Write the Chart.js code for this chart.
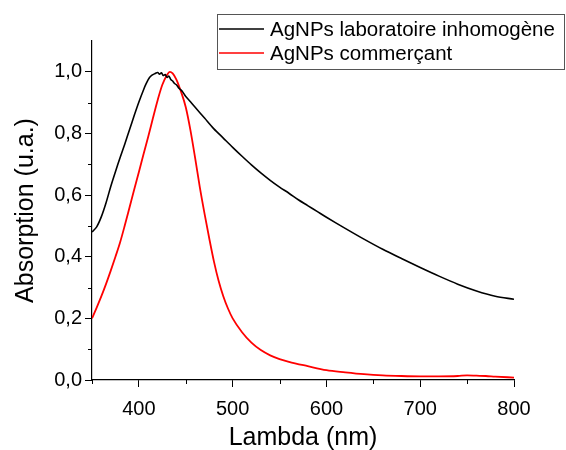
<!DOCTYPE html>
<html lang="fr">
<head>
  <meta charset="UTF-8">
  <title>Absorption AgNPs</title>
  <script src="https://cdn.jsdelivr.net/npm/chart.js"></script>
  <style>
    body { margin: 0; background: #fff; }
    .chart-box { width: 566px; height: 450px; position: relative; }
  </style>
</head>
<body>
  <div class="chart-box">
    <canvas id="spectre"></canvas>
  </div>

  <script>
    // Longueurs d'onde (nm) et absorbances
    const lambdaLabo = [350, 355, 360, 365, 370, 375, 380, 385, 390, 395, 400, 405, 408, 411, 414, 417, 420, 422, 424, 426, 428, 430, 432, 434, 436, 438, 440, 443, 446, 450, 455, 460, 470, 480, 490, 500, 510, 520, 530, 540, 550, 560, 570, 580, 590, 600, 620, 640, 660, 680, 700, 720, 740, 760, 780, 800];
    const absLabo = [0.480, 0.497, 0.530, 0.575, 0.628, 0.676, 0.722, 0.766, 0.812, 0.858, 0.902, 0.942, 0.963, 0.980, 0.989, 0.994, 0.998, 0.992, 0.997, 0.988, 0.991, 0.982, 0.986, 0.975, 0.970, 0.962, 0.958, 0.946, 0.938, 0.920, 0.903, 0.885, 0.850, 0.815, 0.785, 0.755, 0.726, 0.698, 0.672, 0.648, 0.626, 0.606, 0.585, 0.566, 0.547, 0.528, 0.492, 0.457, 0.424, 0.394, 0.365, 0.337, 0.311, 0.289, 0.272, 0.262];

    const lambdaCommerce = [350, 355, 360, 365, 370, 375, 380, 385, 390, 395, 400, 405, 410, 415, 420, 425, 430, 433, 436, 440, 445, 450, 455, 460, 465, 470, 475, 480, 485, 490, 495, 500, 510, 520, 530, 540, 550, 560, 580, 600, 620, 640, 660, 680, 700, 720, 740, 750, 760, 770, 780, 800];
    const absCommerce = [0.200, 0.235, 0.272, 0.312, 0.355, 0.400, 0.447, 0.502, 0.560, 0.618, 0.675, 0.733, 0.790, 0.850, 0.908, 0.958, 0.990, 1.000, 0.995, 0.975, 0.935, 0.885, 0.810, 0.720, 0.625, 0.540, 0.460, 0.385, 0.322, 0.272, 0.232, 0.200, 0.155, 0.121, 0.097, 0.080, 0.068, 0.059, 0.045, 0.032, 0.025, 0.019, 0.015, 0.013, 0.012, 0.012, 0.013, 0.015, 0.014, 0.013, 0.011, 0.008];

    const xMajor = [400, 500, 600, 700, 800];
    const xMinor = [350, 450, 550, 650, 750];
    const yMajor = [0, 0.2, 0.4, 0.6, 0.8, 1.0];
    const yMinor = [0.1, 0.3, 0.5, 0.7, 0.9];

    const police = '"Liberation Sans", Arial, sans-serif';

    function enPoints(xs, ys) {
      return xs.map((x, i) => ({ x: x, y: ys[i] }));
    }

    // petits traits secondaires + legende encadree
    const decorPlugin = {
      id: 'decor',
      afterDraw(chart) {
        const ctx = chart.ctx;
        const sx = chart.scales.x, sy = chart.scales.y;
        ctx.save();
        ctx.strokeStyle = '#000';
        ctx.lineWidth = 1;
        ctx.beginPath();
        xMinor.forEach(v => {
          const px = Math.round(sx.getPixelForValue(v)) + 0.5;
          ctx.moveTo(px, sy.bottom);
          ctx.lineTo(px, sy.bottom + 4);
        });
        yMinor.forEach(v => {
          const py = Math.round(sy.getPixelForValue(v)) + 0.5;
          ctx.moveTo(sx.left, py);
          ctx.lineTo(sx.left - 4, py);
        });
        ctx.stroke();

        // legende
        ctx.fillStyle = '#fff';
        ctx.fillRect(217, 14, 348, 55);
        ctx.strokeStyle = '#555';
        ctx.strokeRect(217.5, 14.5, 347, 55);
        ctx.font = '20.5px ' + police;
        ctx.textBaseline = 'middle';
        chart.data.datasets.forEach((ds, i) => {
          const y = 29 + i * 24;
          ctx.strokeStyle = ds.borderColor;
          ctx.lineWidth = 1.5;
          ctx.beginPath();
          ctx.moveTo(219, y);
          ctx.lineTo(264, y);
          ctx.stroke();
          ctx.fillStyle = '#000';
          ctx.fillText(ds.label, 270, y + 1);
        });
        ctx.restore();
      }
    };

    new Chart(document.getElementById('spectre'), {
      type: 'scatter',
      data: {
        datasets: [
          {
            label: 'AgNPs laboratoire inhomogène',
            data: enPoints(lambdaLabo, absLabo),
            showLine: true,
            borderColor: '#000000',
            borderWidth: 1.6,
            pointRadius: 0,
            tension: 0.3
          },
          {
            label: 'AgNPs commerçant',
            data: enPoints(lambdaCommerce, absCommerce),
            showLine: true,
            borderColor: '#ff0000',
            borderWidth: 1.8,
            pointRadius: 0,
            cubicInterpolationMode: 'monotone'
          }
        ]
      },
      options: {
        responsive: true,
        maintainAspectRatio: false,
        animation: false,
        layout: { padding: { top: 41, right: 52, left: 0, bottom: -3 } },
        plugins: {
          legend: { display: false },
          tooltip: { enabled: false }
        },
        scales: {
          x: {
            type: 'linear',
            min: 350,
            max: 800,
            afterBuildTicks: s => { s.ticks = xMajor.map(v => ({ value: v })); },
            afterFit: s => { s.height = 73; },
            border: { display: true, color: '#000', width: 1.2 },
            grid: { drawOnChartArea: false, drawTicks: true, tickLength: 7, tickColor: '#000' },
            ticks: { color: '#000', font: { family: police, size: 20 }, padding: 10, maxRotation: 0 },
            title: { display: true, text: 'Lambda (nm)', color: '#000', font: { family: police, size: 25 }, padding: { top: 4, bottom: 0 } }
          },
          y: {
            min: 0,
            max: 1.1,
            afterBuildTicks: s => { s.ticks = yMajor.map(v => ({ value: v })); },
            afterFit: s => { s.width = 92; },
            border: { display: true, color: '#000', width: 1.2 },
            grid: { drawOnChartArea: false, drawTicks: true, tickLength: 7, tickColor: '#000' },
            ticks: {
              color: '#000',
              font: { family: police, size: 20 },
              padding: 3,
              callback: v => v.toFixed(1).replace('.', ',')
            },
            title: { display: true, text: 'Absorption (u.a.)', color: '#000', font: { family: police, size: 25 }, padding: { top: 11, bottom: 0 } }
          }
        }
      },
      plugins: [decorPlugin]
    });
  </script>
</body>
</html>
